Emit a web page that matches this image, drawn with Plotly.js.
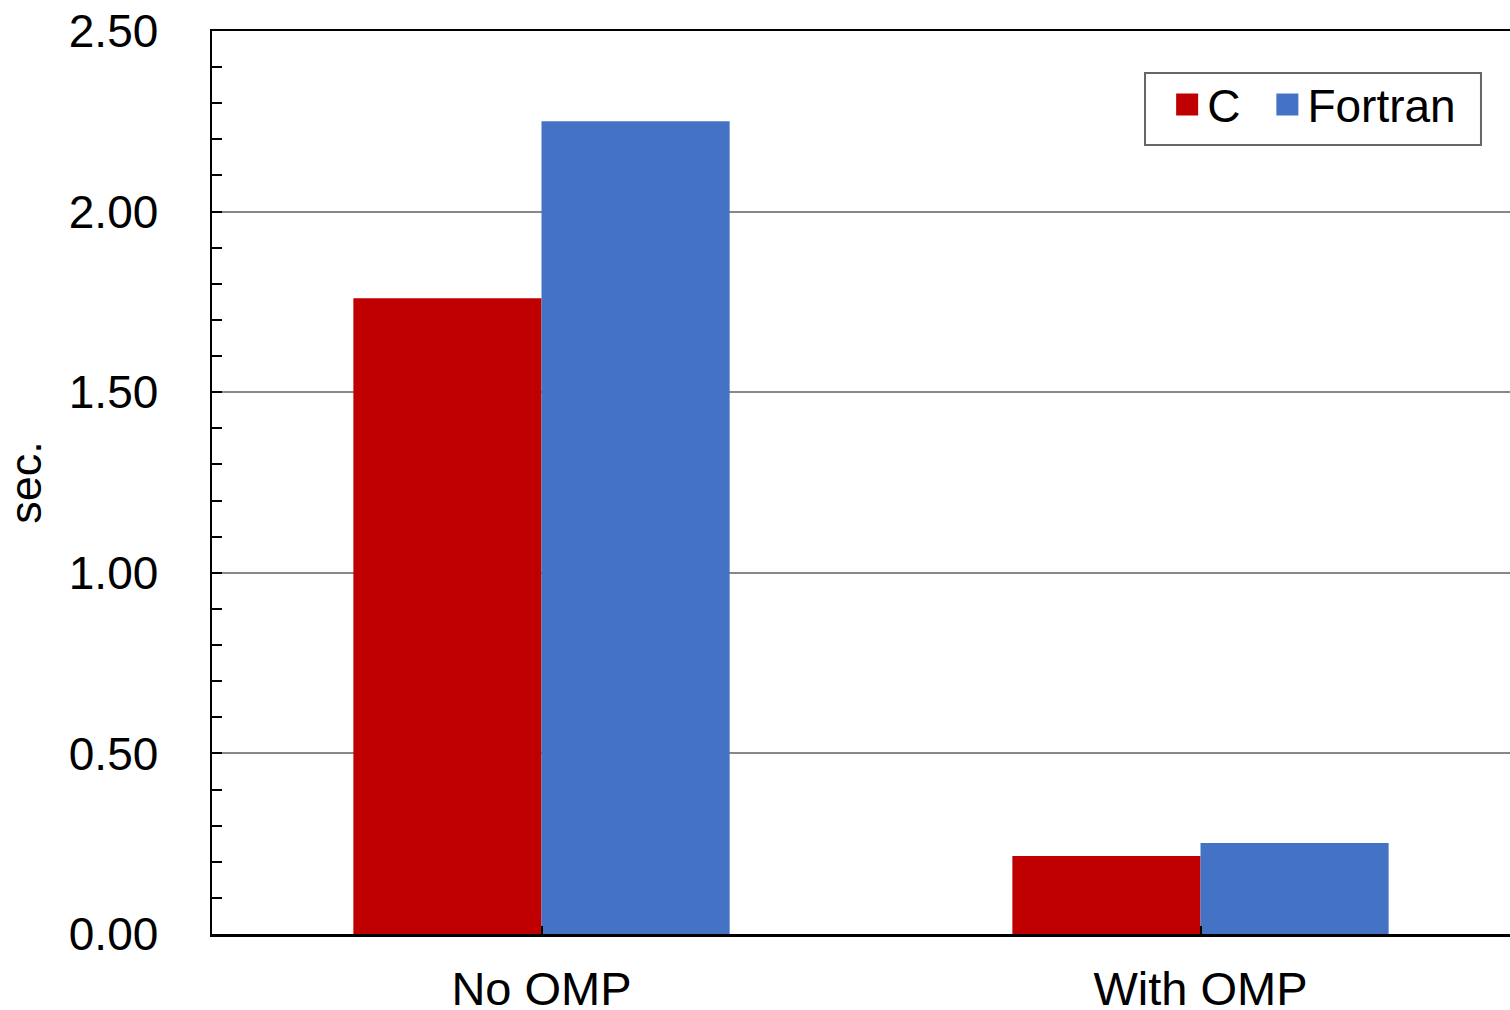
<!DOCTYPE html>
<html><head><meta charset="utf-8">
<script src="https://cdn.plot.ly/plotly-3.0.1.min.js"></script>
<style>html,body{margin:0;padding:0;overflow:hidden;background:#fff}</style>
</head><body>
<div id="chart"></div>
<script>
const categories = ["No OMP", "With OMP"];
const cValues = [1.76, 0.216];
const fortranValues = [2.25, 0.252];
const seriesNames = ["C", "Fortran"];

const font = "Liberation Sans, Arial, sans-serif";
const data = [
  {type: "bar", name: seriesNames[0], x: categories, y: cValues, marker: {color: "#C00000", line: {width: 0}}},
  {type: "bar", name: seriesNames[1], x: categories, y: fortranValues, marker: {color: "#4472C4", line: {width: 0}}}
];
const layout = {
  width: 1530, height: 1010,
  margin: {l: 212, r: 0, t: 31, b: 76},
  paper_bgcolor: "#fff", plot_bgcolor: "#fff",
  font: {family: font, color: "#000", size: 46},
  barmode: "group", bargap: 0.429, bargroupgap: 0,
  showlegend: true,
  legend: {orientation: "h", x: 0.708, y: 0.959, xanchor: "left", yanchor: "top",
    indentation: 22,
    borderwidth: 0, bgcolor: "rgba(0,0,0,0)", font: {size: 46, family: font}},
  shapes: [{type: "rect", xref: "paper", yref: "paper", x0: 0.7079, x1: 0.9628, y0: 0.8738, y1: 0.9535,
    line: {color: "#666", width: 2}, fillcolor: "rgba(0,0,0,0)", layer: "above"}],
  xaxis: {
    type: "category", range: [-0.5, 1.5],
    showline: true, linecolor: "#000", linewidth: 2.5, mirror: true,
    ticks: "inside", ticklen: 8, tickwidth: 2, tickcolor: "#000",
    ticklabelstandoff: 12, showgrid: false, zeroline: false,
    tickfont: {size: 47, family: font}
  },
  yaxis: {
    range: [0, 2.5], dtick: 0.5, tick0: 0, tickformat: ".2f",
    showline: true, linecolor: "#000", linewidth: 2.5, mirror: true,
    ticks: "inside", ticklen: 10, tickwidth: 2, tickcolor: "#000",
    minor: {dtick: 0.1, ticks: "inside", ticklen: 10, tickwidth: 2, tickcolor: "#000", showgrid: false},
    showgrid: true, gridcolor: "#888", gridwidth: 2, zeroline: false,
    ticklabelstandoff: 42,
    tickfont: {size: 46, family: font},
    title: {text: "sec.", font: {size: 45, family: font}, standoff: 14}
  }
};
Plotly.newPlot("chart", data, layout, {displayModeBar: false, staticPlot: true}).then(function () {
  document.querySelectorAll(".legendpoints path").forEach(function (p) {
    p.setAttribute("d", "M11,11H-11V-11H11Z");
  });
});
</script>
</body></html>
